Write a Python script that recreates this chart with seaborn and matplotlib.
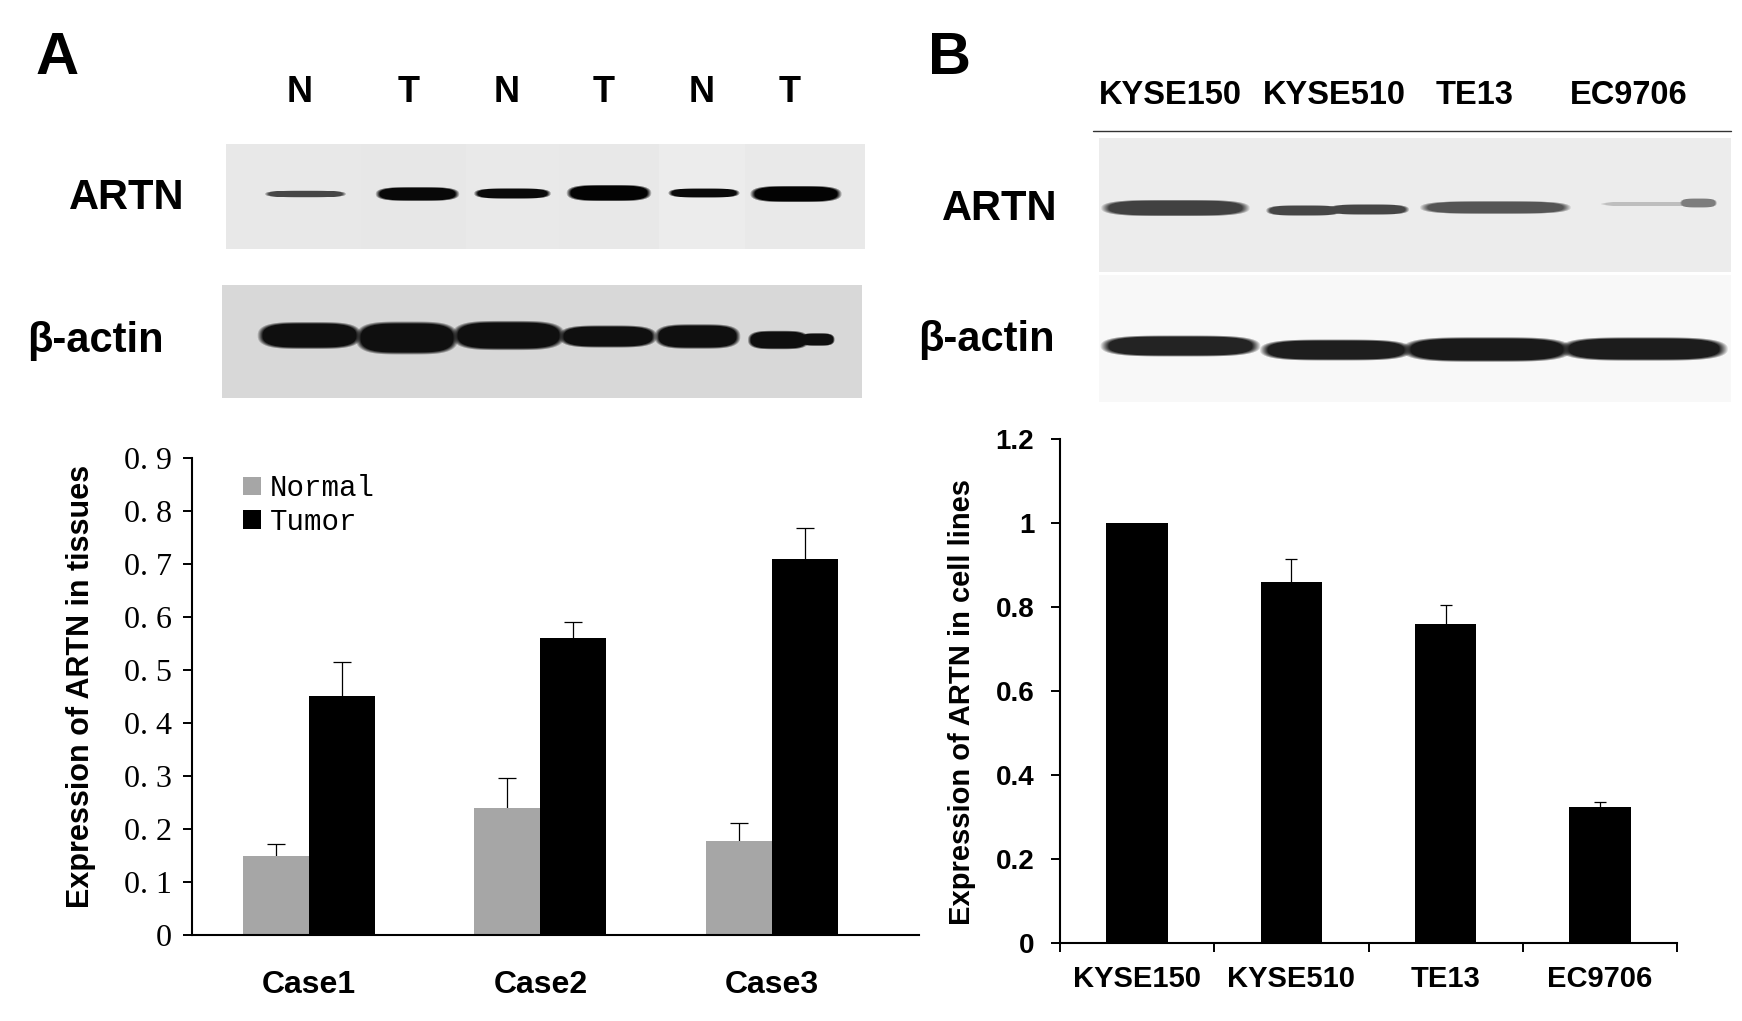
import numpy as np
import pandas as pd
import matplotlib
matplotlib.use("Agg")
import matplotlib.pyplot as plt
import seaborn as sns

W, H = 1742, 1021

# bar chart A
cases = ["Case1", "Case2", "Case3"]
normal_vals = [0.149, 0.240, 0.177]
tumor_vals = [0.451, 0.560, 0.710]
normal_err = [0.023, 0.057, 0.035]
tumor_err = [0.064, 0.031, 0.058]
yticks_a = [0, 0.1, 0.2, 0.3, 0.4, 0.5, 0.6, 0.7, 0.8, 0.9]
ytick_labels_a = ["0", "0. 1", "0. 2", "0. 3", "0. 4", "0. 5", "0. 6", "0. 7", "0. 8", "0. 9"]

# bar chart B
cell_lines = ["KYSE150", "KYSE510", "TE13", "EC9706"]
cell_vals = [1.0, 0.86, 0.76, 0.323]
cell_err = [0, 0.055, 0.045, 0.013]
yticks_b = [0, 0.2, 0.4, 0.6, 0.8, 1, 1.2]
ytick_labels_b = ["0", "0.2", "0.4", "0.6", "0.8", "1", "1.2"]

# blots: band edges (px), darkness is grey level
a_artn_x0 = [269, 380, 478, 571, 672, 755]
a_artn_x1 = [342, 455, 547, 647, 736, 837]
a_artn_y0 = [191, 188, 189, 186, 189, 187]
a_artn_y1 = [197, 200, 198, 200, 197, 201]
a_artn_grey = [70, 8, 10, 3, 10, 3]
a_artn_bg = [232, 231, 233, 232, 236, 233]

a_actin_x0 = [263, 361, 458, 564, 659, 751, 802]
a_actin_x1 = [356, 453, 559, 652, 736, 806, 833]
a_actin_y0 = [324, 324, 323, 327, 326, 332, 334]
a_actin_y1 = [347, 352, 348, 346, 347, 348, 345]
a_actin_grey = [15, 15, 15, 15, 15, 15, 15]

b_artn_x0 = [1109, 1270, 1332, 1428, 1606, 1682]
b_artn_x1 = [1242, 1338, 1405, 1563, 1698, 1715]
b_artn_y0 = [201, 206, 205, 202, 202, 199]
b_artn_y1 = [215, 215, 214, 213, 206, 207]
b_artn_grey = [65, 70, 70, 85, 190, 125]

b_actin_x0 = [1109, 1268, 1411, 1569]
b_actin_x1 = [1252, 1404, 1563, 1719]
b_actin_y0 = [337, 341, 339, 339]
b_actin_y1 = [355, 359, 360, 359]
b_actin_grey = [35, 30, 25, 28]

lane_labels_a = ["N", "T", "N", "T", "N", "T"]
lane_x_a = [300, 409, 507, 604, 702, 790]
lane_x_b = [1170, 1334, 1475, 1629]

sns.set_theme(style="white", rc={"text.color": "black", "axes.labelcolor": "black",
                                 "xtick.color": "black", "ytick.color": "black"})
plt.rcParams["font.family"] = ["Liberation Sans", "DejaVu Sans"]
plt.rcParams["font.weight"] = "bold"

fig = plt.figure(figsize=(W / 100, H / 100), dpi=100, facecolor="white")


def px_axes(left, top, right, bottom):
    return fig.add_axes([left / W, 1 - bottom / H, (right - left) / W, (bottom - top) / H])


def px_text(x, y, s, size, **kw):
    fig.text(x / W, 1 - y / H, s, fontsize=size, fontweight="bold", ha="center", va="center", **kw)


def draw_blot(left, top, right, bottom, bg, x0, x1, y0, y1, grey):
    # one heatmap cell per pixel
    xs = np.arange(left, right) + 0.5
    ys = np.arange(top, bottom) + 0.5
    xx, yy = np.meshgrid(xs, ys)
    if np.isscalar(bg):
        img = np.full(xx.shape, float(bg))
    else:
        # gel was pasted from pieces, background differs per lane
        edges = [left] + [(a + b) / 2 for a, b in zip(x1[:-1], x0[1:])] + [right]
        img = np.zeros(xx.shape)
        for i, g in enumerate(bg):
            img[:, (xs >= edges[i]) & (xs < edges[i + 1])] = g
    for a, b, c, d, g in zip(x0, x1, y0, y1, grey):
        cx, cy = (a + b) / 2, (c + d) / 2
        hw, hh = (b - a) / 2, (d - c) / 2
        r = np.abs((xx - cx) / hw) ** 4 + np.abs((yy - cy) / hh) ** 2.5
        alpha = np.clip((1.6 - r) / 0.6, 0, 1)
        img = np.minimum(img, img * (1 - alpha) + g * alpha)
    ax = px_axes(left, top, right, bottom)
    sns.heatmap(img, ax=ax, cmap="gray", vmin=0, vmax=255, cbar=False,
                xticklabels=False, yticklabels=False, rasterized=True)


draw_blot(226, 144, 865, 249, a_artn_bg, a_artn_x0, a_artn_x1, a_artn_y0, a_artn_y1, a_artn_grey)
draw_blot(222, 285, 862, 398, 216, a_actin_x0, a_actin_x1, a_actin_y0, a_actin_y1, a_actin_grey)
draw_blot(1099, 138, 1731, 272, 236, b_artn_x0, b_artn_x1, b_artn_y0, b_artn_y1, b_artn_grey)
draw_blot(1099, 275, 1731, 402, 248, b_actin_x0, b_actin_x1, b_actin_y0, b_actin_y1, b_actin_grey)

# rule above the cell line blot
fig.add_artist(plt.Line2D([1093 / W, 1731 / W], [1 - 131 / H, 1 - 131 / H], color="#333333", lw=1))

# panel letters and blot labels
px_text(57, 59, "A", 43)
px_text(950, 59, "B", 43)
for x, s in zip(lane_x_a, lane_labels_a):
    px_text(x, 93, s, 26)
for x, s in zip(lane_x_b, cell_lines):
    px_text(x, 95, s, 23.5)
px_text(127, 198, "ARTN", 30)
px_text(95, 341, "β-actin", 30)
px_text(1000, 209, "ARTN", 30)
px_text(986, 340, "β-actin", 30)

# A: tissues
df_a = pd.DataFrame({
    "case": cases * 2,
    "group": ["Normal"] * 3 + ["Tumor"] * 3,
    "value": normal_vals + tumor_vals,
})
ax1 = px_axes(192, 458, 919, 935)
sns.barplot(data=df_a, x="case", y="value", hue="group", palette=["#a6a6a6", "#000000"],
            width=0.57, saturation=1, errorbar=None, linewidth=0, ax=ax1)
for cont, errs in zip(ax1.containers, [normal_err, tumor_err]):
    for bar, e in zip(cont, errs):
        # start inside the bar so the lower cap stays hidden
        ax1.errorbar(bar.get_x() + bar.get_width() / 2, bar.get_height() - 0.01, yerr=[[0], [e + 0.01]],
                     color="black", lw=0.9, capsize=6.8, capthick=0.9, zorder=0.5)
ax1.set_xlim(-0.505, 2.635)
ax1.set_ylim(0, 0.9)
ax1.set_yticks(yticks_a)
ax1.set_yticklabels(ytick_labels_a, family="Liberation Serif", fontweight="normal", fontsize=23)
ax1.tick_params(axis="y", left=True, length=6.5, width=1.4, pad=8, color="black")
ax1.tick_params(axis="x", bottom=False, pad=19, labelsize=23)
ax1.set_xlabel("")
ax1.set_ylabel("Expression of ARTN in tissues", fontsize=22, fontweight="bold", labelpad=20, y=0.522)
ax1.legend(loc="upper left", bbox_to_anchor=(0.07, 0.966), frameon=False, borderpad=0, borderaxespad=0,
           handlelength=0.62, handleheight=0.62, handletextpad=0.3, labelspacing=0.2,
           prop={"family": "Liberation Mono", "size": 21, "weight": "normal"})

# B: cell lines
ax2 = px_axes(1060, 439, 1677, 943)
sns.barplot(x=cell_lines, y=cell_vals, color="black", width=0.4, saturation=1,
            errorbar=None, linewidth=0, ax=ax2)
for bar, e in zip(ax2.containers[0], cell_err):
    if e > 0:
        ax2.errorbar(bar.get_x() + bar.get_width() / 2, bar.get_height() - 0.01, yerr=[[0], [e + 0.01]],
                     color="black", lw=0.9, capsize=4.5, capthick=0.9, zorder=0.5)
ax2.set_xlim(-0.5, 3.5)
ax2.set_ylim(0, 1.2)
ax2.set_yticks(yticks_b)
ax2.set_yticklabels(ytick_labels_b, fontsize=20)
ax2.tick_params(axis="y", left=True, length=6.5, width=1.4, pad=12, color="black")
ax2.set_xticks(np.arange(-0.5, 4, 1), minor=True)
ax2.tick_params(axis="x", which="minor", bottom=True, length=6.5, width=1.4, color="black")
ax2.tick_params(axis="x", which="major", bottom=False, pad=10, labelsize=21)
ax2.set_ylabel("Expression of ARTN in cell lines", fontsize=21, fontweight="bold", labelpad=14, y=0.478)

for ax in [ax1, ax2]:
    sns.despine(ax=ax)
    for side in ["left", "bottom"]:
        ax.spines[side].set_color("black")
        ax.spines[side].set_linewidth(1.5)

fig.savefig("out.png", dpi=100)
